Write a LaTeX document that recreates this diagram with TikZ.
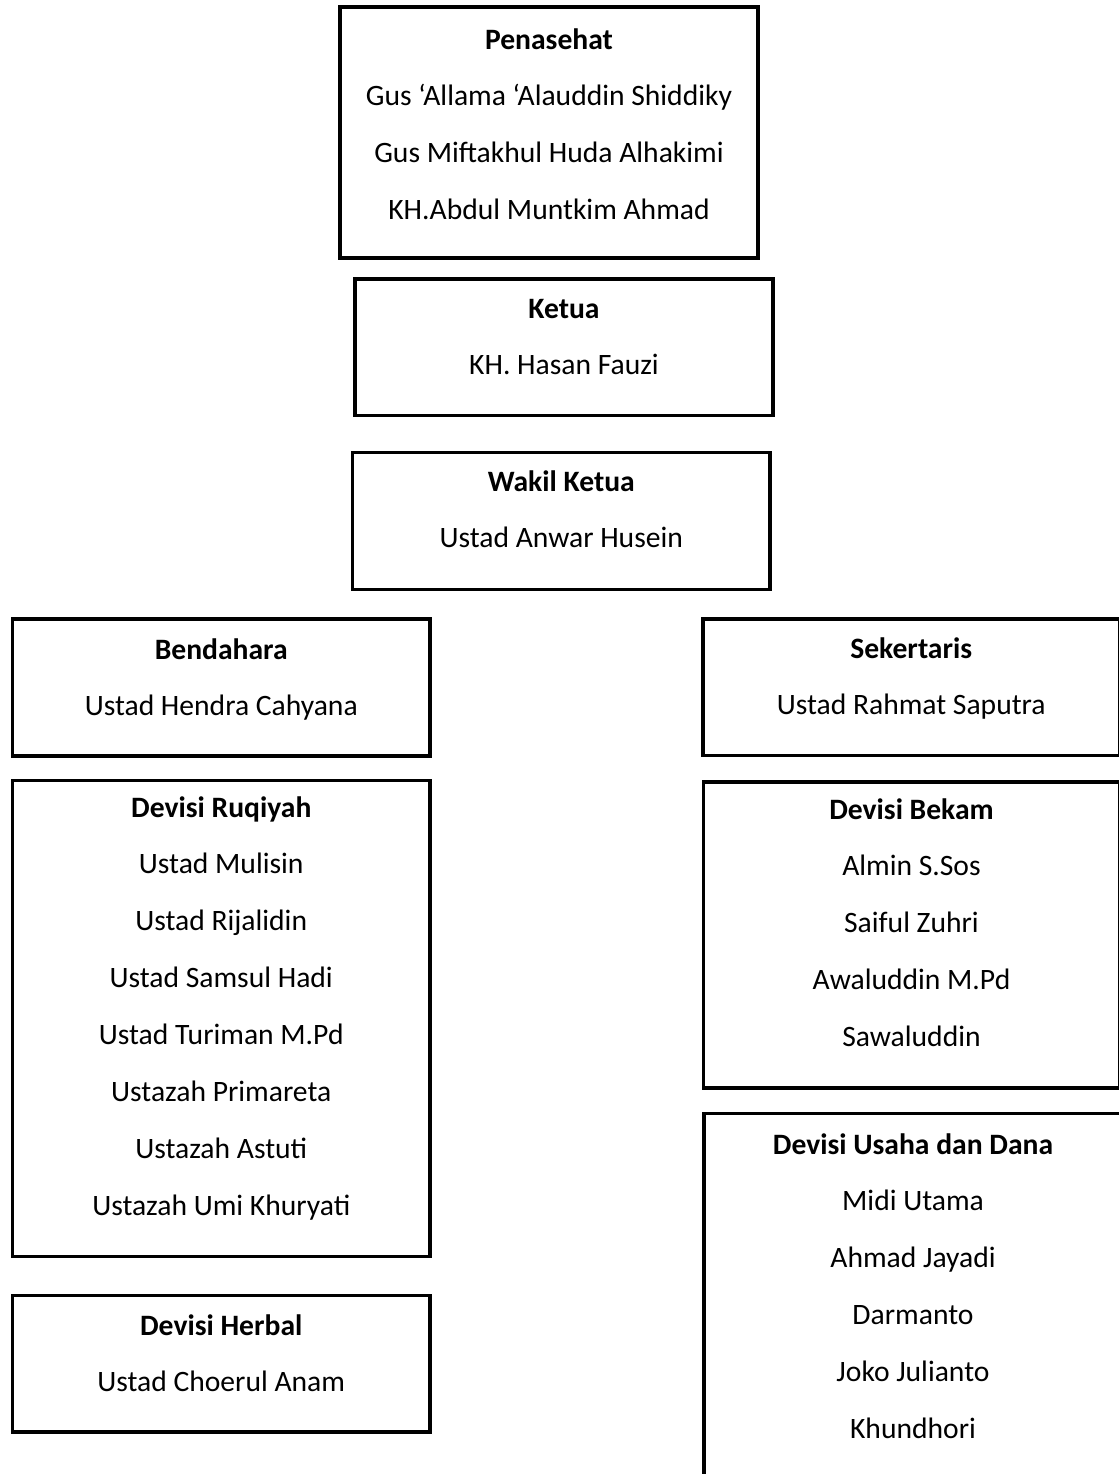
\documentclass[tikz,border=0pt]{standalone}
\usepackage{fontspec}
\setmainfont{Carlito}
\tikzset{
  orgbox/.style={draw=black, line width=1.8pt, inner sep=0pt, fill=none},
  headtxt/.style={anchor=base, inner sep=0pt, font=\fontsize{14.8}{17}\selectfont\bfseries},
  itemtxt/.style={anchor=base, inner sep=0pt, font=\fontsize{14.8}{17}\selectfont}
}
% name, x1, y1, x2, y2, title centre y, title, items
\newcommand\orgunit[8]{%
  \node[orgbox, minimum width={(#4-#2)*0.5pt}, minimum height={(#5-#3)*0.5pt}]
     (#1) at ({(#2+#4)/2},{(#3+#5)/2}) {};
  \node[headtxt] (#1-t) at ({(#2+#4)/2},{#6+9}) {#7};
  \foreach [count=\i] \t in {#8}
    \node[itemtxt] (#1-\i) at ({(#2+#4)/2},{#6+\i*56.9+9}) {\t};
}
\begin{document}
\begin{tikzpicture}[x=0.5pt,y=-0.5pt]
\clip (0,0) rectangle (1119,1474);
\fill[white] (0,0) rectangle (1119,1474);
\orgunit{pen}{340}{7}{758}{258}{40}{Penasehat}{Gus ‘Allama ‘Alauddin Shiddiky,Gus Miftakhul Huda Alhakimi,KH.Abdul Muntkim Ahmad}
\orgunit{ket}{355}{279}{773}{415.5}{309}{Ketua}{KH. Hasan Fauzi}
\orgunit{wak}{352.5}{452.5}{770}{589.5}{482}{Wakil Ketua}{Ustad Anwar Husein}
\orgunit{ben}{12.5}{619}{430}{756}{650}{Bendahara}{Ustad Hendra Cahyana}
\orgunit{sek}{703}{619}{1119.5}{755.5}{649}{Sekertaris}{Ustad Rahmat Saputra}
\orgunit{ruq}{12.5}{780.5}{430}{1256.5}{808}{Devisi Ruqiyah}{Ustad Mulisin,Ustad Rijalidin,Ustad Samsul Hadi,Ustad Turiman M.Pd,Ustazah Primareta,Ustazah Astuti,Ustazah Umi Khuryati}
\orgunit{bek}{703.5}{782}{1119.5}{1088}{810}{Devisi Bekam}{Almin S.Sos,Saiful Zuhri,Awaluddin M.Pd,Sawaluddin}
\orgunit{her}{12.5}{1295.5}{430}{1432}{1326}{Devisi Herbal}{Ustad Choerul Anam}
\orgunit{usa}{704}{1113.5}{1122}{1490}{1145}{Devisi Usaha dan Dana}{Midi Utama,Ahmad Jayadi,Darmanto,Joko Julianto,Khundhori}
\end{tikzpicture}
\end{document}
